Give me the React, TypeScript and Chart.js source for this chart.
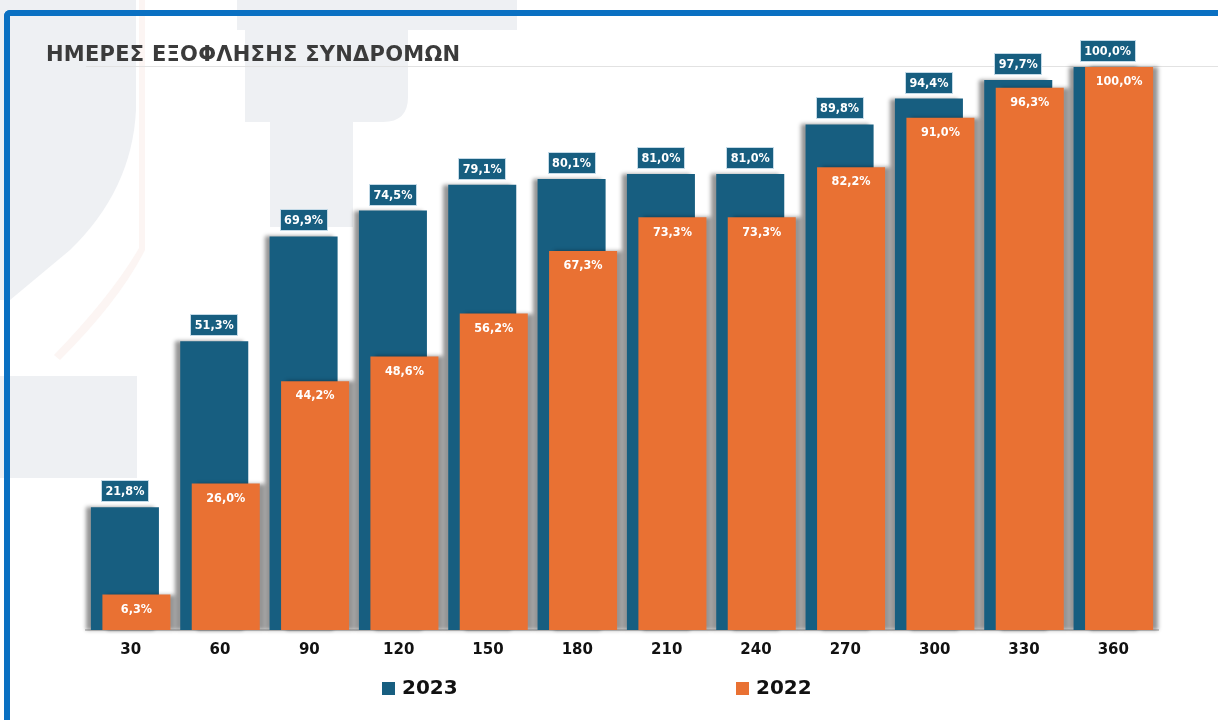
import React, { useEffect, useRef } from 'react';
import { Chart, registerables } from 'chart.js';

Chart.register(...registerables);

const categories = ['30', '60', '90', '120', '150', '180', '210', '240', '270', '300', '330', '360'];
const values2023 = [21.8, 51.3, 69.9, 74.5, 79.1, 80.1, 81.0, 81.0, 89.8, 94.4, 97.7, 100.0];
const values2022 = [6.3, 26.0, 44.2, 48.6, 56.2, 67.3, 73.3, 73.3, 82.2, 91.0, 96.3, 100.0];
const seriesNames = ['2023', '2022'];
const titleText = 'ΗΜΕΡΕΣ ΕΞΟΦΛΗΣΗΣ ΣΥΝΔΡΟΜΩΝ';

const BLUE = '#175e80';
const ORANGE = '#e97133';
const FRAME = '#0a70c2';
const WM = '#eef0f3';
const LABEL_FONT = 'bold 12.5px "DejaVu Sans Condensed", "DejaVu Sans", sans-serif';

const fmt = (v: number) => v.toFixed(1).replace('.', ',') + '%';

const drawPlugin = {
  id: 'customDraw',
  beforeDatasetsDraw(chart: any) {
    const ctx: CanvasRenderingContext2D = chart.ctx;
    const yScale = chart.scales.y;
    const area = chart.chartArea;

    // faint top rule at 100%
    ctx.save();
    ctx.strokeStyle = '#e2e2e2';
    ctx.lineWidth = 1;
    const yTop = Math.round(yScale.getPixelForValue(100)) - 0.5;
    ctx.beginPath();
    ctx.moveTo(area.left, yTop);
    ctx.lineTo(chart.width, yTop);
    ctx.stroke();
    ctx.restore();

    // draw 2023 (behind) then 2022 (front) with side shadows
    const offsets = [-5, 5];
    [0, 1].forEach((i) => {
      const meta = chart.getDatasetMeta(i);
      if (!meta.visible) return;
      ctx.save();
      ctx.shadowColor = 'rgba(0,0,0,0.42)';
      ctx.shadowBlur = 4;
      ctx.shadowOffsetX = offsets[i];
      ctx.shadowOffsetY = 0;
      meta.controller.draw();
      ctx.restore();
    });

    // labels
    ctx.save();
    ctx.font = LABEL_FONT;
    ctx.textAlign = 'center';
    ctx.textBaseline = 'middle';
    const d0 = chart.data.datasets[0].data as number[];
    const d1 = chart.data.datasets[1].data as number[];
    chart.getDatasetMeta(0).data.forEach((bar: any, j: number) => {
      const txt = fmt(d0[j]);
      const w = Math.round(ctx.measureText(txt).width + 9);
      const h = 22;
      const x = Math.round(bar.x - w / 2);
      const yb = Math.round(bar.y - 5 - h);
      ctx.fillStyle = BLUE;
      ctx.fillRect(x, yb, w, h);
      ctx.strokeStyle = 'rgba(215,232,242,0.9)';
      ctx.lineWidth = 1;
      ctx.strokeRect(x + 0.5, yb + 0.5, w - 1, h - 1);
      ctx.fillStyle = '#ffffff';
      ctx.fillText(txt, bar.x, yb + h / 2 + 1);
    });
    chart.getDatasetMeta(1).data.forEach((bar: any, j: number) => {
      ctx.fillStyle = '#ffffff';
      ctx.fillText(fmt(d1[j]), bar.x, bar.y + 15);
    });
    ctx.restore();
    return false;
  },
};

export default function App() {
  const canvasRef = useRef<HTMLCanvasElement | null>(null);

  useEffect(() => {
    if (!canvasRef.current) return;
    const chart = new Chart(canvasRef.current, {
      type: 'bar',
      data: {
        labels: categories,
        datasets: [
          { label: seriesNames[0], data: values2023, backgroundColor: BLUE, borderWidth: 0 },
          { label: seriesNames[1], data: values2022, backgroundColor: ORANGE, borderWidth: 0 },
        ],
      },
      options: {
        responsive: false,
        animation: false,
        events: [],
        layout: { padding: { left: 86, right: 60, top: 67, bottom: 50 } },
        datasets: { bar: { categoryPercentage: 0.2576, barPercentage: 5.913 } },
        plugins: {
          legend: { display: false },
          tooltip: { enabled: false },
          title: { display: false },
        },
        scales: {
          x: {
            grid: { display: false, drawTicks: false },
            border: { display: true, color: '#cfcfcf', width: 2 },
            ticks: {
              color: '#111111',
              font: { family: 'DejaVu Sans', weight: 'bold', size: 15 },
              padding: 11,
            },
          },
          y: { display: false, min: 0, max: 100 },
        },
      } as any,
      plugins: [drawPlugin as any],
    });
    return () => chart.destroy();
  }, []);

  return (
    <div style={{ position: 'fixed', left: 0, top: 0, width: 1218, height: 720, overflow: 'hidden', background: '#ffffff' }}>
      <svg width={1218} height={720} style={{ position: 'absolute', left: 0, top: 0 }}>
        <path d="M0 0 L136 0 L136 110 Q132 190 70 250 L10 300 L0 300 Z" fill={WM} />
        <rect x={0} y={376} width={137} height={102} fill={WM} />
        <path d="M237 0 L517 0 L517 30 L408 30 L408 97 Q408 122 383 122 L353 122 L353 227 L270 227 L270 122 L245 122 L245 30 L237 30 Z" fill={WM} />
        <path d="M139 0 L145 0 L145 250 Q120 300 60 360 L54 355 Q112 295 139 248 Z" fill="#fcf5f3" />
      </svg>
      <div
        style={{
          position: 'absolute',
          left: 4,
          top: 10,
          width: 1300,
          height: 800,
          borderTop: `6px solid ${FRAME}`,
          borderLeft: `6px solid ${FRAME}`,
          borderTopLeftRadius: 6,
          boxSizing: 'border-box',
        }}
      />
      <canvas ref={canvasRef} width={1218} height={720} style={{ position: 'absolute', left: 0, top: 0 }} />
      <div
        style={{
          position: 'absolute',
          left: 46,
          top: 44,
          font: 'bold 21px "DejaVu Sans", sans-serif',
          lineHeight: '21px',
          letterSpacing: '0.25px',
          color: '#3b3b3b',
          whiteSpace: 'nowrap',
        }}
      >
        {titleText}
      </div>
      {[
        { name: seriesNames[0], color: BLUE, left: 382 },
        { name: seriesNames[1], color: ORANGE, left: 736 },
      ].map((it) => (
        <div key={it.name} style={{ position: 'absolute', left: it.left, top: 677, height: 20, whiteSpace: 'nowrap' }}>
          <span style={{ position: 'absolute', left: 0, top: 5, width: 13, height: 13, background: it.color }} />
          <span
            style={{
              position: 'absolute',
              left: 20,
              top: 0,
              font: 'bold 20px "DejaVu Sans", sans-serif',
              lineHeight: '20px',
              color: '#111111',
            }}
          >
            {it.name}
          </span>
        </div>
      ))}
    </div>
  );
}
